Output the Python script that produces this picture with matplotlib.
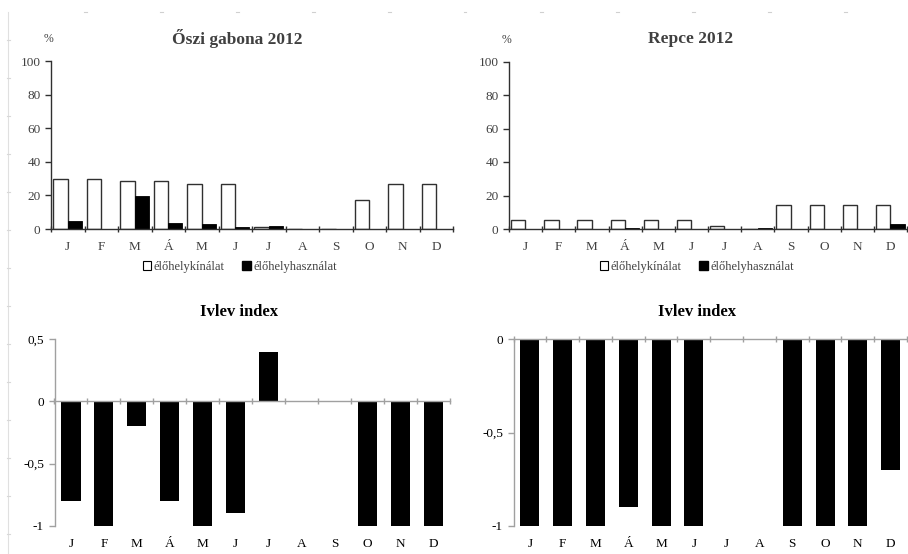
import matplotlib

matplotlib.use("Agg")
import matplotlib.pyplot as plt
import numpy as np
from matplotlib.lines import Line2D
from matplotlib.patches import Patch

plt.rcParams["font.family"] = ["Liberation Serif", "DejaVu Serif"]

months = ["J", "F", "M", "Á", "M", "J", "J", "A", "S", "O", "N", "D"]

# habitat supply / habitat use (%), winter cereal 2012
gabona_kinalat = [30, 30, 28.5, 28.5, 26.5, 26.5, 1, 0, 0, 17, 26.5, 26.5]
gabona_hasznalat = [4.5, 0, 19.8, 3.7, 3, 1, 1.7, 0, 0, 0, 0, 0]
gabona_ivlev = [-0.8, -1, -0.2, -0.8, -1, -0.9, 0.4, 0, 0, -1, -1, -1]

# rapeseed 2012
repce_kinalat = [5.6, 5.6, 5.6, 5.6, 5.6, 5.6, 1.6, 0, 14.5, 14.5, 14.5, 14.5]
repce_hasznalat = [0, 0, 0, 0.8, 0, 0, 0, 0.8, 0, 0, 0, 3]
repce_ivlev = [-1, -1, -1, -0.9, -1, -1, 0, 0, -1, -1, -1, -0.7]

W, H = 908, 554
TXT = "#404040"
GREY = "#a0a0a0"

fig = plt.figure(figsize=(W / 100, H / 100), dpi=100)


def px_axes(x0, x1, y_top, y_bot):
    return fig.add_axes([x0 / W, 1 - y_bot / H, (x1 - x0) / W, (y_bot - y_top) / H])


def supply_panel(ax, kinalat, hasznalat):
    x = np.arange(len(months))
    ax.bar(x - 0.22, kinalat, width=0.43, color="white", edgecolor="#303030", linewidth=1.0)
    ax.bar(x + 0.21, hasznalat, width=0.43, color="black", edgecolor="black", linewidth=0.6)
    ax.set_xlim(-0.5, len(months) - 0.5)
    ax.set_ylim(0, 100)
    ax.set_yticks([0, 20, 40, 60, 80, 100])
    ax.set_xticks(x)
    ax.set_xticklabels(months)
    ax.set_xticks(np.arange(-0.5, len(months)), minor=True)
    ax.tick_params(axis="x", which="major", length=0, pad=9, labelsize=9.5, labelcolor=TXT)
    ax.tick_params(axis="x", which="minor", direction="inout", length=5, width=1, color="#303030")
    ax.tick_params(axis="y", length=4, width=1, color="#303030", labelsize=9.5, labelcolor=TXT)
    for s in ("top", "right"):
        ax.spines[s].set_visible(False)
    for s in ("left", "bottom"):
        ax.spines[s].set_color("#303030")
        ax.spines[s].set_linewidth(1.0)


def ivlev_panel(ax, ivlev, ymin, ymax, yticks, yticklabels):
    x = np.arange(len(months))
    ax.bar(x, ivlev, width=0.58, color="black")
    ax.set_xlim(-0.5, len(months) - 0.5)
    ax.set_ylim(ymin, ymax)
    ax.set_yticks(yticks)
    ax.set_yticklabels(yticklabels)
    ax.spines["bottom"].set_position(("data", 0))
    ax.set_xticks(np.arange(-0.5, len(months)))
    ax.set_xticklabels([])
    ax.tick_params(axis="x", direction="inout", length=5, width=1, color=GREY)
    ax.tick_params(axis="y", length=4, width=1, color=GREY, labelsize=9.5, labelcolor="black")
    for s in ("top", "right"):
        ax.spines[s].set_visible(False)
    for s in ("left", "bottom"):
        ax.spines[s].set_color(GREY)
        ax.spines[s].set_linewidth(1.0)
    # month labels sit below the plot area, not on the zero line
    for xi, m in zip(x, months):
        ax.text(xi, -0.1, m, transform=ax.get_xaxis_transform(),
                ha="center", va="center", fontsize=9.5, color="black")


ax1 = px_axes(51, 453, 61, 229)
supply_panel(ax1, gabona_kinalat, gabona_hasznalat)
ax2 = px_axes(509, 907, 61.5, 229)
supply_panel(ax2, repce_kinalat, repce_hasznalat)

ax3 = px_axes(54.5, 450, 339.3, 525.7)
ivlev_panel(ax3, gabona_ivlev, -1, 0.5, [-1, -0.5, 0, 0.5], ["-1", "-0,5", "0", "0,5"])
ax4 = px_axes(513.5, 907, 339.3, 525.7)
ivlev_panel(ax4, repce_ivlev, -1, 0, [-1, -0.5, 0], ["-1", "-0,5", "0"])

# titles and unit labels
fig.text(237 / W, 1 - 38 / H, "Őszi gabona 2012", ha="center", va="center",
         fontsize=12.5, fontweight="bold", color=TXT)
fig.text(691 / W, 1 - 39 / H, "Repce 2012", ha="center", va="center",
         fontsize=12.5, fontweight="bold", color=TXT)
fig.text(239 / W, 1 - 312 / H, "Ivlev index", ha="center", va="center",
         fontsize=12, fontweight="bold", color="black")
fig.text(697 / W, 1 - 312 / H, "Ivlev index", ha="center", va="center",
         fontsize=12, fontweight="bold", color="black")
fig.text(48 / W, 1 - 39 / H, "%", ha="center", va="center", fontsize=8.5, color=TXT)
fig.text(506 / W, 1 - 40 / H, "%", ha="center", va="center", fontsize=8.5, color=TXT)

# legends under the upper panels
handles = [Patch(facecolor="white", edgecolor="black", linewidth=0.8),
           Patch(facecolor="black", edgecolor="black")]
labels = ["élőhelykínálat", "élőhelyhasználat"]
for cx in (240, 697):
    fig.legend(handles, labels, loc="center", bbox_to_anchor=(cx / W, 1 - 267 / H),
               ncol=2, frameon=False, fontsize=9, handlelength=0.7, handleheight=0.7,
               handletextpad=0.2, columnspacing=1.4, labelcolor=TXT)

# faint sheet border fragments
fig.add_artist(Line2D([8 / W, 8 / W], [0, 1 - 12 / H], transform=fig.transFigure,
                      color="#e0e0e0", linewidth=0.8))
for gx in np.arange(85, W, 76):
    fig.add_artist(Line2D([(gx - 1.5) / W, (gx + 1.5) / W], [1 - 12 / H] * 2,
                          transform=fig.transFigure, color="#d0d0d0", linewidth=0.8))
for gy in np.arange(40, H, 38):
    fig.add_artist(Line2D([(8 - 1.5) / W, (8 + 1.5) / W], [1 - gy / H] * 2,
                          transform=fig.transFigure, color="#d8d8d8", linewidth=0.8))

fig.savefig("out.png", dpi=100)
